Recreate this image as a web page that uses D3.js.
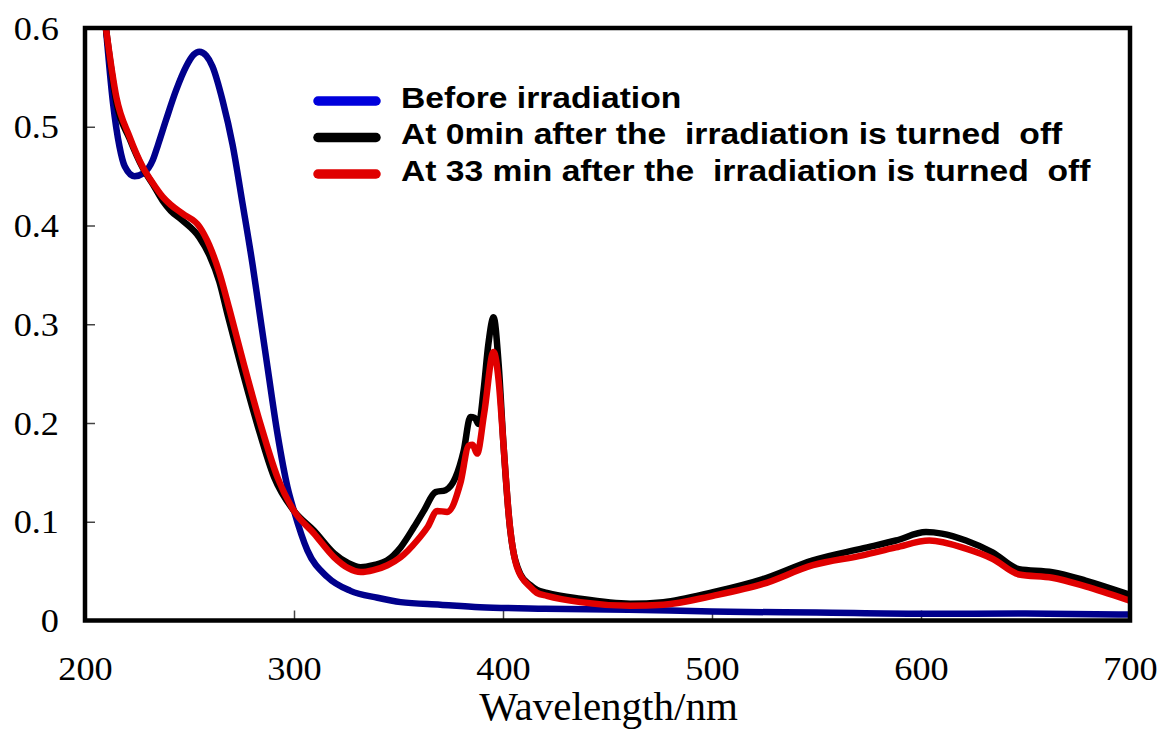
<!DOCTYPE html>
<html>
<head>
<meta charset="utf-8">
<script src="https://cdn.jsdelivr.net/npm/d3@7"></script>
<style>
  body { margin: 0; background: #fff; }
  svg { display: block; }
</style>
</head>
<body>
<svg id="chart" width="1162" height="731"></svg>
<script>
// tick labels
var xTicks = [200, 300, 400, 500, 600, 700];
var yTicks = [0, 0.1, 0.2, 0.3, 0.4, 0.5, 0.6];
var yTickLabels = ["0", "0.1", "0.2", "0.3", "0.4", "0.5", "0.6"];

// series names
var seriesNames = [
	"Before irradiation",
	"At 0min after the  irradiation is turned  off",
	"At 33 min after the  irradiation is turned  off"
];

// Before irradiation (blue)
var beforeWl = [210, 213.4, 216.5, 219, 223.7, 228, 232.4, 235, 238.8, 243.6, 248.4, 252, 254.7, 258, 261, 265.9, 270.6, 275.4, 280.2, 283.3, 287.3, 292.1, 296.9, 300, 306.4, 316, 327, 340, 351, 370, 389, 420, 460, 500, 550, 600, 650, 700];
var beforeAbs = [0.60, 0.524, 0.48, 0.46, 0.450, 0.453, 0.466, 0.482, 0.507, 0.537, 0.561, 0.573, 0.576, 0.572, 0.561, 0.526, 0.482, 0.422, 0.360, 0.315, 0.257, 0.189, 0.135, 0.111, 0.071, 0.044, 0.030, 0.023, 0.0186, 0.016, 0.0135, 0.012, 0.011, 0.009, 0.008, 0.0068, 0.007, 0.006];

// At 0 min (black)
var min0Wl = [210, 215, 221.3, 227.7, 232.4, 237.2, 241, 246.7, 254.7, 259.5, 264.3, 268.2, 274.6, 282.5, 290.5, 300, 309.6, 319.2, 326, 331.9, 338, 344.7, 351, 357.4, 362.1, 367.7, 372.5, 377.3, 381.2, 384.4, 386.5, 388.4, 390.7, 393, 395.5, 397.9, 400.3, 403.5, 408.3, 413, 416.2, 421, 437, 460.8, 476.7, 500.5, 524.4, 548.3, 572.1, 588, 602.4, 610, 621.5, 634.2, 646.9, 662.8, 678.7, 698.6, 700];
var min0Abs = [0.60, 0.525, 0.488, 0.458, 0.442, 0.425, 0.415, 0.405, 0.388, 0.370, 0.343, 0.310, 0.258, 0.198, 0.145, 0.111, 0.091, 0.068, 0.058, 0.054, 0.056, 0.061, 0.074, 0.0946, 0.111, 0.130, 0.132, 0.145, 0.172, 0.206, 0.205, 0.199, 0.233, 0.28, 0.307, 0.260, 0.176, 0.091, 0.047, 0.036, 0.031, 0.028, 0.022, 0.017, 0.0186, 0.0287, 0.042, 0.061, 0.073, 0.081, 0.0895, 0.088, 0.081, 0.069, 0.052, 0.049, 0.0405, 0.027, 0.026];

// At 33 min (red)
var min33Wl = [210, 215, 221.3, 227.7, 232.4, 237.2, 241, 246.7, 254.7, 259.5, 264.3, 269, 276.2, 284.1, 292.1, 300, 309.6, 319.2, 326, 331.9, 338, 344.7, 351, 358.9, 364, 368.5, 373.3, 379.6, 383.6, 385.5, 387.6, 391, 395.5, 397.9, 400.3, 402.7, 406.7, 413, 416.2, 421, 437, 460.8, 476.7, 500.5, 524.4, 548.3, 572.1, 588, 604, 621.5, 634.2, 646.9, 662.8, 678.7, 698.6, 700];
var min33Abs = [0.60, 0.530, 0.490, 0.459, 0.443, 0.429, 0.421, 0.412, 0.399, 0.380, 0.352, 0.316, 0.258, 0.198, 0.145, 0.111, 0.088, 0.064, 0.053, 0.049, 0.051, 0.056, 0.064, 0.081, 0.095, 0.111, 0.110, 0.139, 0.177, 0.178, 0.169, 0.21, 0.272, 0.243, 0.176, 0.108, 0.054, 0.034, 0.028, 0.025, 0.0186, 0.015, 0.016, 0.025, 0.037, 0.056, 0.066, 0.074, 0.081, 0.0727, 0.0625, 0.0466, 0.0433, 0.0345, 0.021, 0.020];

var svg = d3.select("#chart");
var plotLeft = 85, plotRight = 1130, plotTop = 28, plotBottom = 620.5;

var x = d3.scaleLinear().domain([200, 700]).range([plotLeft, plotRight]);
var y = d3.scaleLinear().domain([0, 0.6]).range([plotBottom, plotTop]);

//clip the curves to the frame
svg.append("clipPath").attr("id", "plotclip")
	.append("rect").attr("x", plotLeft).attr("y", plotTop)
	.attr("width", plotRight - plotLeft).attr("height", plotBottom - plotTop);

// axes, ticks point inwards
var yAxis = d3.axisLeft(y).tickValues(yTicks).tickSize(-10).tickPadding(26)
	.tickFormat(function(d, i) { return yTickLabels[i]; });
var gy = svg.append("g").attr("transform", "translate(" + plotLeft + ",0)").call(yAxis);
gy.select(".domain").remove();
gy.selectAll(".tick line").attr("stroke", "#444").attr("stroke-width", 1.5);
gy.selectAll(".tick text")
	.attr("font-family", "'Liberation Serif','Times New Roman',serif")
	.attr("font-size", 33).attr("fill", "#000")
	.attr("x", -26 / 1.1).attr("dy", "0.34em")
	.attr("transform", "scale(1.1,1)");

var xAxis = d3.axisBottom(x).tickValues(xTicks).tickSize(-10).tickFormat(d3.format("d"));
var gx = svg.append("g").attr("transform", "translate(0," + plotBottom + ")").call(xAxis);
gx.select(".domain").remove();
gx.selectAll(".tick line").attr("stroke", "#444").attr("stroke-width", 1.5);
gx.selectAll(".tick text")
	.attr("font-family", "'Liberation Serif','Times New Roman',serif")
	.attr("font-size", 33).attr("fill", "#000")
	.attr("y", 60).attr("dy", 0)
	.attr("transform", "scale(1.1,1)");

// the data lines
var series = [
	{ wl: beforeWl, abs: beforeAbs, color: "#00008c" },
	{ wl: min0Wl, abs: min0Abs, color: "#000000" },
	{ wl: min33Wl, abs: min33Abs, color: "#e00000" }
];

var line = d3.line()
	.x(function(d) { return x(d[0]); })
	.y(function(d) { return y(d[1]); })
	.curve(d3.curveMonotoneX);

var plot = svg.append("g").attr("clip-path", "url(#plotclip)");
series.forEach(function(s) {
	var pts = s.wl.map(function(w, i) { return [w, s.abs[i]]; });
	plot.append("path").datum(pts)
		.attr("d", line)
		.attr("fill", "none")
		.attr("stroke", s.color)
		.attr("stroke-width", 6.5)
		.attr("stroke-linejoin", "round")
		.attr("stroke-linecap", "round");
});

// frame
svg.append("rect")
	.attr("x", plotLeft).attr("y", plotTop)
	.attr("width", plotRight - plotLeft).attr("height", plotBottom - plotTop)
	.attr("fill", "none").attr("stroke", "#000").attr("stroke-width", 4.5);

// axis title
svg.append("text")
	.attr("x", (x(400) + x(500)) / 2 + 1).attr("y", 720)
	.attr("text-anchor", "middle")
	.attr("font-family", "'Liberation Serif','Times New Roman',serif")
	.attr("font-size", 41)
	.text("Wavelength/nm");

// legend
var legendColors = ["#0000dc", "#000000", "#e00000"];
var legend = svg.append("g");
seriesNames.forEach(function(name, i) {
	var baseY = 107.5 + i * 36.5;
	legend.append("line")
		.attr("x1", 318).attr("x2", 376)
		.attr("y1", baseY - 6.5).attr("y2", baseY - 6.5)
		.attr("stroke", legendColors[i]).attr("stroke-width", 9.5)
		.attr("stroke-linecap", "round");
	legend.append("text")
		.attr("transform", "translate(401," + baseY + ") scale(1.14,1)")
		.attr("font-family", "'Liberation Sans',Arial,sans-serif")
		.attr("font-weight", "bold")
		.attr("font-size", 29.5)
		.style("white-space", "pre")
		.text(name);
});
</script>
</body>
</html>
